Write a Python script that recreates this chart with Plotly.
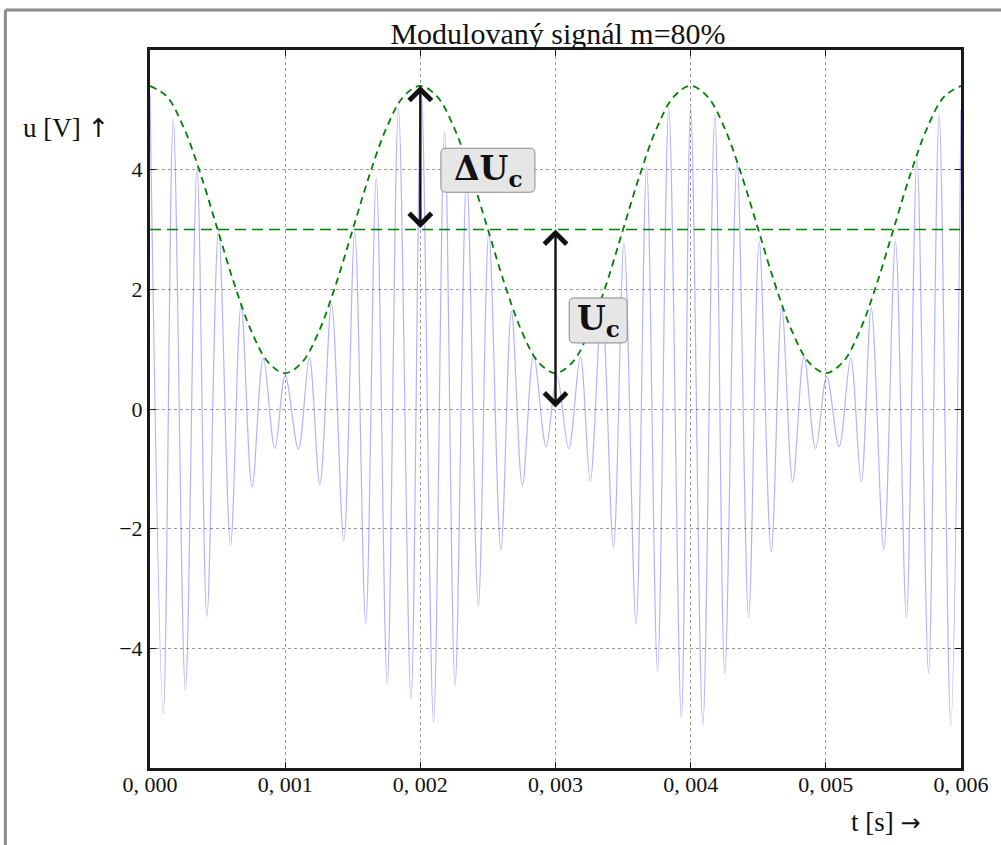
import plotly.graph_objects as go

# ---------------- data ----------------
# extrema of the modulated signal: time [ms], voltage [V]
sig_t_ms = [0.000, 0.098, 0.172, 0.262, 0.348, 0.421, 0.507, 0.596, 0.674, 0.755,
            0.838, 0.924, 1.000, 1.098, 1.179, 1.257, 1.343, 1.434, 1.515, 1.596,
            1.674, 1.755, 1.838, 1.931, 2.007, 2.098, 2.179, 2.257, 2.343, 2.429,
            2.507, 2.596, 2.674, 2.755, 2.838, 2.931, 3.010, 3.098, 3.184, 3.257,
            3.343, 3.429, 3.507, 3.596, 3.674, 3.755, 3.838, 3.931, 4.000, 4.090,
            4.179, 4.252, 4.343, 4.429, 4.507, 4.596, 4.674, 4.755, 4.838, 4.924,
            5.007, 5.098, 5.184, 5.262, 5.336, 5.429, 5.515, 5.596, 5.674, 5.760,
            5.838, 5.924, 6.000]
sig_u = [5.25, -5.09, 4.84, -4.70, 4.03, -3.47, 3.00, -2.27, 1.75, -1.30,
         0.85, -0.66, 0.56, -0.67, 0.85, -1.26, 1.75, -2.20, 2.96, -3.60,
         3.86, -4.59, 5.02, -4.85, 5.30, -5.24, 4.63, -4.62, 3.90, -3.29,
         2.96, -2.35, 1.63, -1.28, 0.89, -0.63, 0.56, -0.66, 0.875, -1.20,
         1.75, -2.31, 2.77, -3.60, 4.05, -4.38, 5.03, -5.16, 5.03, -5.28,
         4.91, -4.42, 4.13, -3.48, 2.80, -2.39, 1.69, -1.22, 0.875, -0.66,
         0.54, -0.63, 0.85, -1.22, 1.69, -2.35, 2.80, -3.48, 4.17, -4.41,
         4.91, -5.28, 5.00]

# envelope (green dashed) : time [ms], voltage [V]
env_t_ms = [0.000, 0.125, 0.250, 0.375, 0.500, 0.625, 0.750, 0.875, 1.000,
            1.125, 1.250, 1.375, 1.500, 1.625, 1.750, 1.875, 2.000,
            2.125, 2.250, 2.375, 2.500, 2.625, 2.750, 2.875, 3.000,
            3.125, 3.250, 3.375, 3.500, 3.625, 3.750, 3.875, 4.000,
            4.125, 4.250, 4.375, 4.500, 4.625, 4.750, 4.875, 5.000,
            5.125, 5.250, 5.375, 5.500, 5.625, 5.750, 5.875, 6.000]
env_u = [5.40, 5.22, 4.70, 3.92, 3.00, 2.08, 1.30, 0.78, 0.60,
         0.78, 1.30, 2.08, 3.00, 3.92, 4.70, 5.22, 5.40,
         5.22, 4.70, 3.92, 3.00, 2.08, 1.30, 0.78, 0.60,
         0.78, 1.30, 2.08, 3.00, 3.92, 4.70, 5.22, 5.40,
         5.22, 4.70, 3.92, 3.00, 2.08, 1.30, 0.78, 0.60,
         0.78, 1.30, 2.08, 3.00, 3.92, 4.70, 5.22, 5.40]

carrier_level = 3.0                      # U_c
carrier_t = [0.0, 0.006]
env_max = 5.4

x_tickvals = [0.000, 0.001, 0.002, 0.003, 0.004, 0.005, 0.006]
x_ticktext = ["0, 000", "0, 001", "0, 002", "0, 003", "0, 004", "0, 005", "0, 006"]
y_tickvals = [-4, -2, 0, 2, 4]
y_ticktext = ["\u22124", "\u22122", "0", "2", "4"]

title_text = "Modulovaný signál m=80%"
xlabel = "t [s] <span style='font-family:DejaVu Sans;font-size:24px'>\u2192</span>"
ylabel = "u [V] <span style='font-family:DejaVu Sans;font-size:26px'>\u2191</span>"

# arrows: (t, y_from, y_to)
arrow_dU = (0.002, carrier_level, env_max)
arrow_U = (0.003, 0.0, carrier_level)
# labels: (t, y, text, box width px, box height px)
label_dU = (0.0025, 3.99, "<b>\u0394U<sub>c</sub></b>", 94, 44)
label_U = (0.003316, 1.48, "<b>U<sub>c</sub></b>", 58, 45)

# ---------------- figure ----------------
SERIF = "Liberation Serif"
W, H = 1001, 845
L, R, T, B = 150, 35, 50, 77
pw, ph = W - L - R, H - T - B


def px_x(p):
    return (p - L) / pw


def px_y(p):
    return (H - B - p) / ph


def rounded_box(w, h, r=5):
    a, b = w / 2, h / 2
    return (f"M {-a + r},{-b} L {a - r},{-b} Q {a},{-b} {a},{-b + r} "
            f"L {a},{b - r} Q {a},{b} {a - r},{b} L {-a + r},{b} "
            f"Q {-a},{b} {-a},{b - r} L {-a},{-b + r} Q {-a},{-b} {-a + r},{-b} Z")


fig = go.Figure()
fig.add_trace(go.Scatter(
    x=[t / 1000 for t in sig_t_ms], y=sig_u, mode="lines",
    line=dict(color="rgba(0,0,255,0.3)", width=1.2, shape="spline", smoothing=1.0),
    hoverinfo="skip", showlegend=False))
fig.add_trace(go.Scatter(
    x=[t / 1000 for t in env_t_ms], y=env_u, mode="lines",
    line=dict(color="#008000", width=1.8, dash="7px,5px", shape="spline"),
    hoverinfo="skip", showlegend=False))
fig.add_trace(go.Scatter(
    x=carrier_t, y=[carrier_level, carrier_level], mode="lines",
    line=dict(color="#008000", width=1.6, dash="11px,6px"),
    hoverinfo="skip", showlegend=False))

annotations = []
for (t, y0, y1) in (arrow_dU, arrow_U):
    annotations.append(dict(
        x=t, y=y1, ax=t, ay=y0, xref="x", yref="y", axref="x", ayref="y",
        text="", showarrow=True, arrowside="end+start",
        arrowhead=4, startarrowhead=4, arrowsize=1.8, startarrowsize=1.8,
        arrowwidth=2.4, arrowcolor="#111111", standoff=0, startstandoff=0))

shapes = []
for (t, y, txt, bw, bh) in (label_dU, label_U):
    shapes.append(dict(
        type="path", xref="x", yref="y", xsizemode="pixel", ysizemode="pixel",
        xanchor=t, yanchor=y, path=rounded_box(bw, bh),
        fillcolor="#e6e6e6", line=dict(color="#8a8a8a", width=1), layer="above"))
    annotations.append(dict(
        x=t, y=y, xref="x", yref="y", text=txt, showarrow=False,
        font=dict(family="DejaVu Serif", size=33, color="#111111"),
        xanchor="center", yanchor="middle"))

annotations.append(dict(
    x=px_x(20), y=px_y(128), xref="paper", yref="paper", text=ylabel,
    showarrow=False, xanchor="left", yanchor="middle",
    font=dict(family=SERIF, size=27, color="#111111")))
annotations.append(dict(
    x=px_x(928), y=px_y(822), xref="paper", yref="paper", text=xlabel,
    showarrow=False, xanchor="right", yanchor="middle",
    font=dict(family=SERIF, size=27, color="#111111")))

shapes += [
    dict(type="line", xref="paper", yref="paper",
         x0=px_x(4.5), x1=px_x(1010), y0=px_y(10), y1=px_y(10),
         line=dict(color="#8c8c8c", width=3)),
    dict(type="line", xref="paper", yref="paper",
         x0=px_x(4.5), x1=px_x(4.5), y0=px_y(10), y1=px_y(850),
         line=dict(color="#8c8c8c", width=3)),
]

axis_common = dict(
    showline=True, linecolor="#1a1a1a", linewidth=3, mirror="allticks",
    ticks="inside", ticklen=6, tickwidth=1, tickcolor="#1a1a1a",
    showgrid=True, gridcolor="#999999", gridwidth=1, griddash="dot",
    zeroline=False, tickfont=dict(family=SERIF, size=22, color="#111111"),
)

fig.update_layout(
    width=W, height=H, margin=dict(l=L, r=R, t=T, b=B),
    paper_bgcolor="white", plot_bgcolor="white",
    title=dict(text=title_text, x=(L + pw / 2) / W, xanchor="center",
               y=1 - 33 / H, yanchor="middle",
               font=dict(family=SERIF, size=30, color="#111111")),
    xaxis=dict(range=[0, 0.006], tickvals=x_tickvals, ticktext=x_ticktext,
               ticklabelstandoff=-5, **axis_common),
    yaxis=dict(range=[-6, 6], tickvals=y_tickvals, ticktext=y_ticktext, **axis_common),
    annotations=annotations, shapes=shapes, showlegend=False,
)

fig.write_html(
    "out.html",
    config={"displayModeBar": False},
    post_script="document.body.style.margin='0';document.body.style.overflow='hidden';",
)
